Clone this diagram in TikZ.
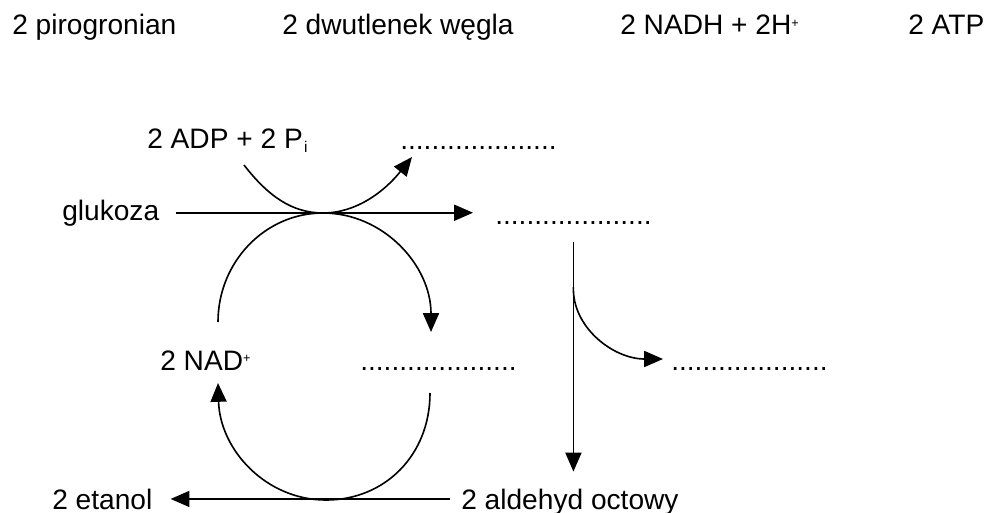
\documentclass[tikz,border=0pt]{standalone}
\usepackage{fontspec}
\setmainfont{Liberation Sans}
\usetikzlibrary{arrows.meta}

% blank to be filled in
\newcommand{\gapdots}{....................}
% small charge and index marks
\newcommand{\chsup}[1]{\raisebox{5.5pt}{\fontsize{9}{9}\selectfont #1}}
\newcommand{\chsub}[1]{\raisebox{-3.5pt}{\fontsize{11}{11}\selectfont #1}}

\begin{document}
\begin{tikzpicture}[
  x=0.025cm, y=-0.025cm,
  lbl/.style={inner sep=0pt, anchor=base west},
  arr/.style={-{Triangle[length=0.47cm,width=0.4cm]}, line width=1.15pt},
  font=\fontsize{20}{24}\selectfont
]
\useasboundingbox (0,0) rectangle (991,512);

% Terms to choose from
\node[lbl] (pir)  at (12,35)  {2 pirogronian};
\node[lbl] (co2)  at (282,35) {2 dwutlenek węgla};
\node[lbl] (nadh) at (620,35) {2 NADH + 2H\chsup{+}};
\node[lbl] (atp)  at (908,35) {2 ATP};

% Scheme
\node[lbl] (adp) at (147,148) {2 ADP + 2 P\kern1pt\chsub{i}};
\node[lbl] (gapA) at (400,149) {\gapdots};
\node[lbl] (glu) at (62,220) {glukoza};
\node[lbl] (gapB) at (495,224) {\gapdots};
\node[lbl] (nad) at (160,370) {2 NAD\chsup{+}};
\node[lbl] (gapC) at (360,370) {\gapdots};
\node[lbl] (gapD) at (671,370) {\gapdots};
\node[lbl] (eta) at (52,509) {2 etanol};
\node[lbl] (ald) at (461,509) {2 aldehyd octowy};

% Main arrows
\draw[arr, shorten <=0.4cm, shorten >=0.55cm] (glu.east) -- (glu.east -| gapB.west);
\draw[arr, shorten <=0.45cm, shorten >=0.42cm] (gapB.south) -- (gapB.south |- ald.north);
\draw[arr, shorten <=0.28cm, shorten >=0.45cm] (ald.west |- eta.east) -- (eta.east);

% Side reactions
\coordinate (hubA) at (323,213);
\coordinate (hubB) at (326,500);
\coordinate (adpS) at (244,165);
\coordinate (adpE) at (412,157);
\draw[arr] (adpS) .. controls (268,196) and (292,213) .. (hubA)
  .. controls (356,213) and (384,192) .. (adpE);

\coordinate (nadS) at (218,322);
\coordinate (nadE) at (431,332);
\draw[arr] (nadS) .. controls (218,262) and (265,213) .. (hubA)
  .. controls (383,213) and (431,265) .. (nadE);

\coordinate (redS) at (430,393);
\coordinate (redE) at (218,383);
\draw[arr] (redS) .. controls (430,455) and (385,500) .. (hubB)
  .. controls (266,500) and (220,450) .. (redE);

\coordinate (fork) at (gapB.south |- 0,287);
\coordinate (forkE) at (663,359);
\draw[arr] (fork) .. controls (572,327) and (613,359) .. (forkE);
\end{tikzpicture}
\end{document}
